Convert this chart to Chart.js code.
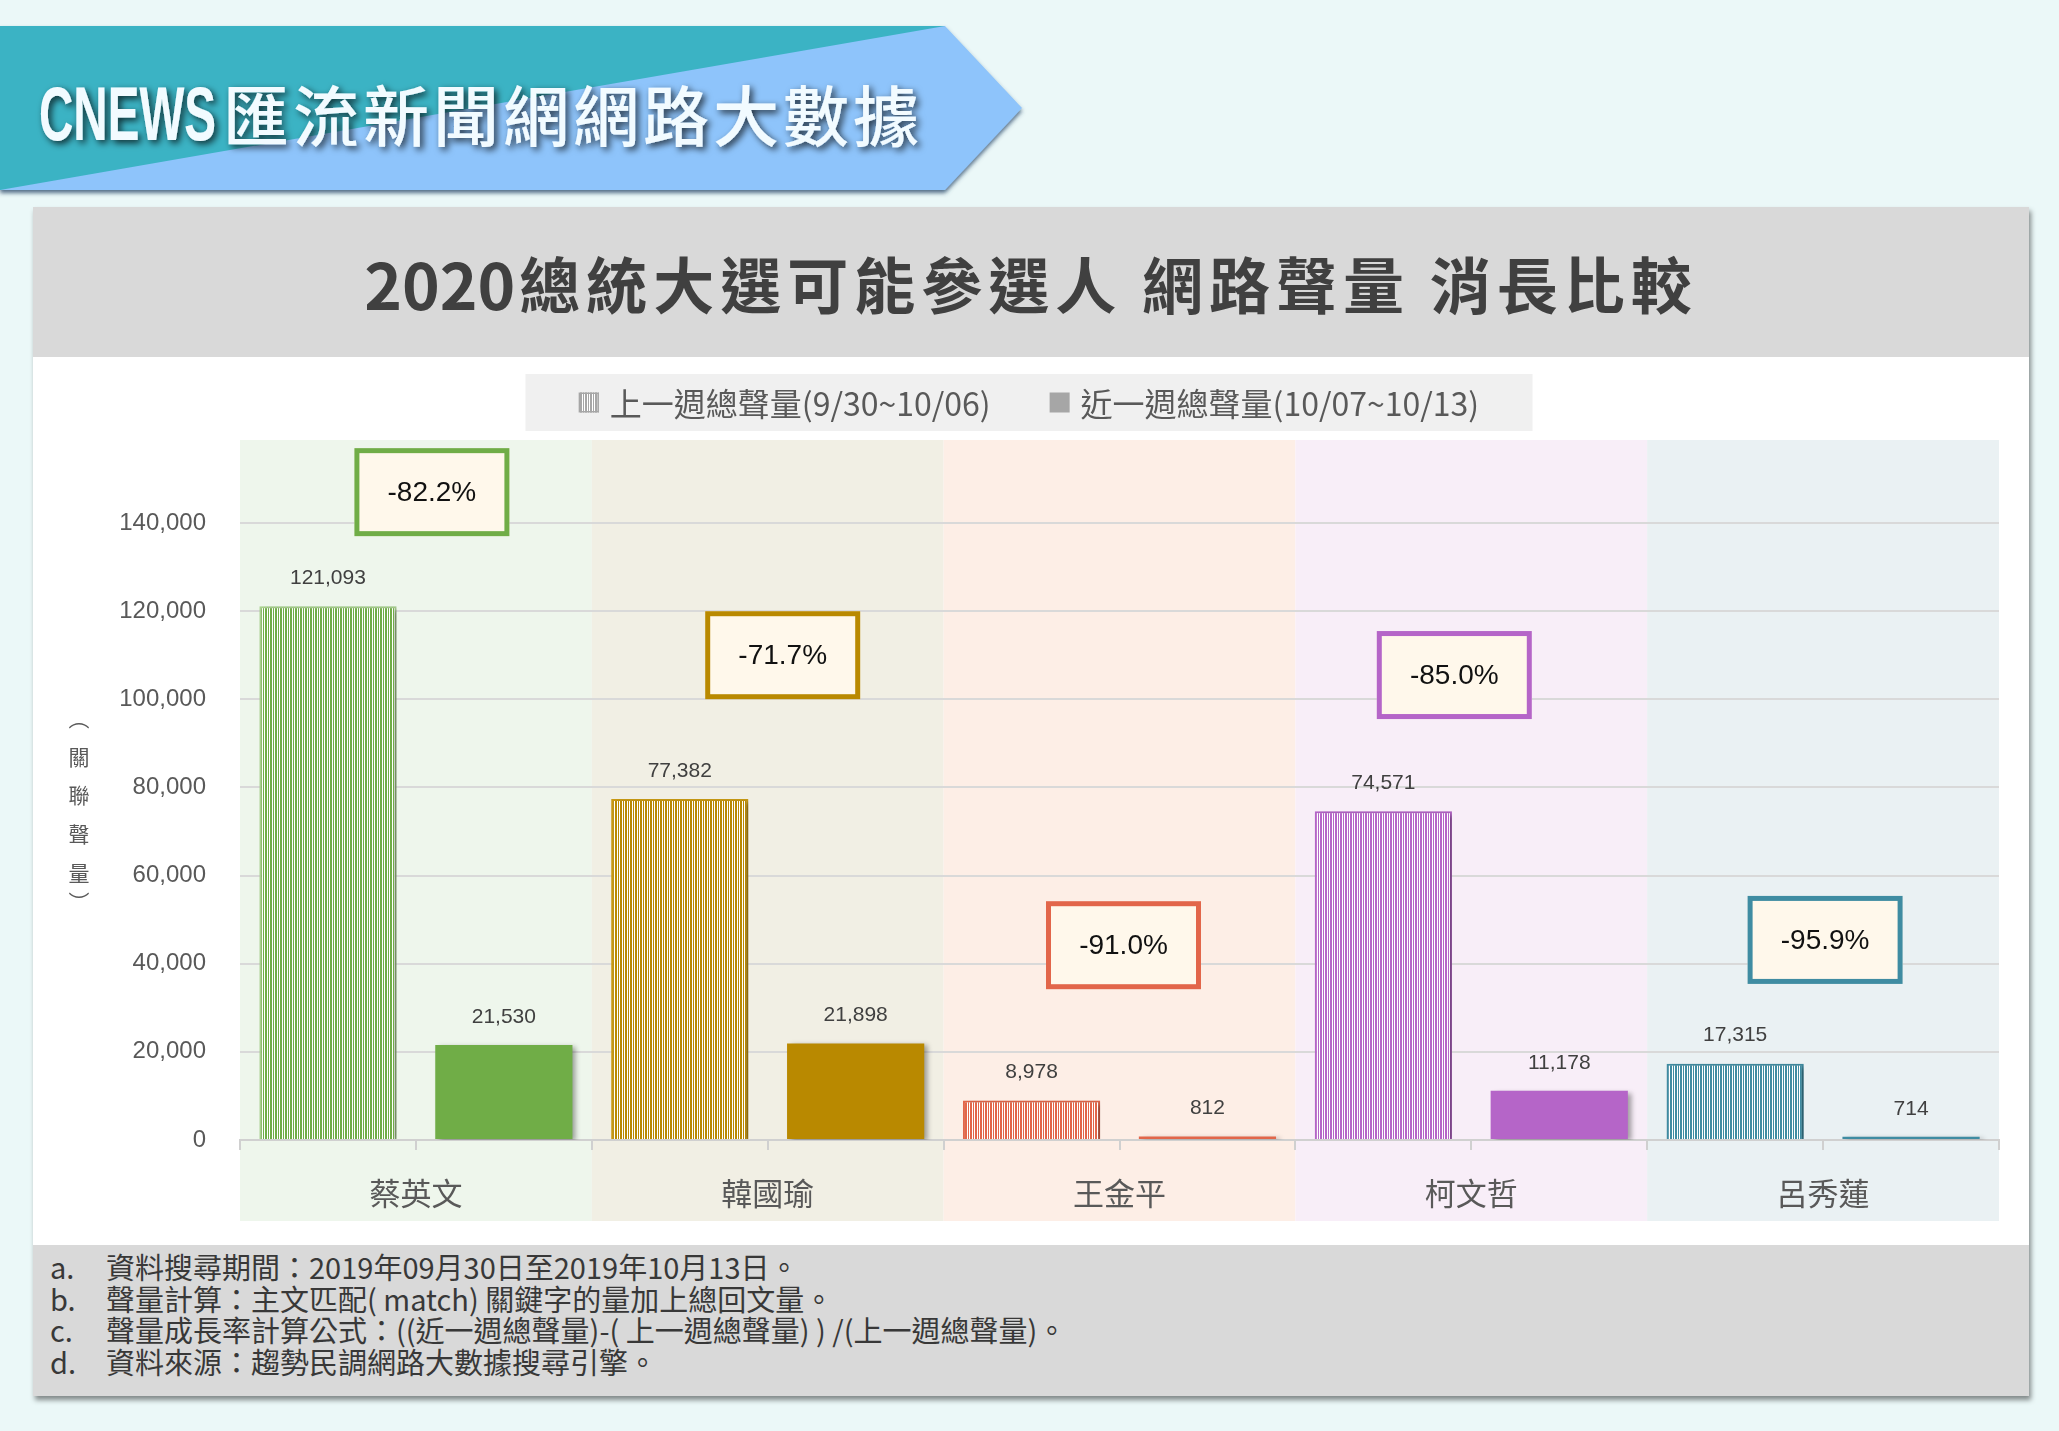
<!DOCTYPE html>
<html lang="zh-Hant">
<head>
<meta charset="utf-8">
<title>2020總統大選可能參選人 網路聲量 消長比較</title>
<script src="https://cdn.jsdelivr.net/npm/chart.js@4.4.1/dist/chart.umd.min.js"></script>
<style>
  body { margin: 0; width: 2059px; height: 1431px; background: #ebf8f8; position: relative; overflow: hidden; font-family: "Noto Sans CJK TC", sans-serif; }
  #banner { position: absolute; left: 0; top: 0; }
  #card { position: absolute; left: 33px; top: 207px; width: 1996px; height: 1189px; background: #fff; box-shadow: 2px 4px 5px rgba(0,0,0,0.45); }
  #card-title { height: 150px; background: #d9d9d9; display: flex; align-items: center; justify-content: center; font-weight: 700; font-size: 61px; letter-spacing: 6px; color: #404040; }
  #card-title .num { letter-spacing: 0; font-size: 64px; margin-right: 4px; }
  #chart-wrap { height: 888px; }
  #notes { height: 151px; background: #d9d9d9; padding: 6px 0 0 17px; box-sizing: border-box; font-size: 29px; line-height: 31.5px; color: #383838; }
  .note span { display: inline-block; width: 56px; }
</style>
</head>
<body>
<svg id="banner" width="1040" height="205" viewBox="0 0 1040 205">
  <defs>
    <filter id="edge" x="-5%" y="-20%" width="110%" height="150%">
      <feDropShadow dx="0" dy="3" stdDeviation="2" flood-color="#2b4a6a" flood-opacity="0.8"/>
    </filter>
    <filter id="glow" x="-10%" y="-30%" width="120%" height="160%">
      <feDropShadow dx="3" dy="3" stdDeviation="3.5" flood-color="#000" flood-opacity="0.75"/>
    </filter>
  </defs>
  <g filter="url(#edge)">
    <polygon points="0,26 945,26 1022,108 945,190 0,190" fill="#8ec4fb"/>
    <polygon points="0,26 945,26 0,190" fill="#3bb3c4"/>
  </g>
  <g filter="url(#glow)" fill="#f2fbff">
    <text x="39" y="140" font-family="Liberation Sans Narrow, Liberation Sans" font-weight="700" font-size="76" textLength="177" lengthAdjust="spacingAndGlyphs">CNEWS</text>
    <text x="223" y="141" font-family="Noto Sans CJK TC" font-weight="500" font-size="66" textLength="696" lengthAdjust="spacing">匯流新聞網網路大數據</text>
  </g>
</svg>

<div id="card">
  <div id="card-title"><span class="num">2020</span>總統大選可能參選人 網路聲量 消長比較</div>
  <div id="chart-wrap"><canvas id="chart" width="1996" height="888"></canvas></div>
  <div id="notes">
    <div class="note"><span>a.</span>資料搜尋期間：2019年09月30日至2019年10月13日。</div>
    <div class="note"><span>b.</span>聲量計算：主文匹配( match) 關鍵字的量加上總回文量。</div>
    <div class="note"><span>c.</span>聲量成長率計算公式：((近一週總聲量)-( 上一週總聲量) ) /(上一週總聲量)。</div>
    <div class="note"><span>d.</span>資料來源：趨勢民調網路大數據搜尋引擎。</div>
  </div>
</div>

<script>
// --- Data ---
const candidates = ['蔡英文', '韓國瑜', '王金平', '柯文哲', '呂秀蓮'];
const prevWeek = [121093, 77382, 8978, 74571, 17315];
const lastWeek = [21530, 21898, 812, 11178, 714];
const seriesLabels = ['上一週總聲量(9/30~10/06)', '近一週總聲量(10/07~10/13)'];
const yMax = 140000;
const yStep = 20000;
const yTitle = ['︵', '關', '聯', '聲', '量', '︶'];

// --- Styles ---
const mainColors = ['#70ad47', '#b98900', '#e2664a', '#b565c8', '#3f8ca2'];
const edgeColors = ['#a9d18e', '#c99a14', '#e2664a', '#b565c8', '#3f8ca2'];
const bandColors = ['#eef6ec', '#f1efe4', '#fdeee6', '#f8eef8', '#eaf1f3'];
const legendGray = '#a6a6a6';
// where each growth box sits (y in axis units, x shift in px)
const boxLevels = [147000, 110000, 44200, 105500, 45400];
const boxShift = [16, 15, 4, -17, 2];
const yTitleNudge = [0, 0, 0, 0, 0, -9];

const stripes = (color) => {
    const c = document.createElement('canvas');
    c.width = 5; c.height = 4;
    const g = c.getContext('2d');
    g.fillStyle = '#fff';
    g.fillRect(0, 0, 5, 4);
    g.fillStyle = color;
    g.fillRect(0, 0, 1, 4);
    g.fillRect(2, 0, 2, 4);
    return g.createPattern(c, 'repeat');
};

const growth = candidates.map((_, i) => ((lastWeek[i] - prevWeek[i]) / prevWeek[i] * 100).toFixed(1) + '%');

// --- Plugins ---
const bands = {
    id: 'bands',
    beforeDraw(chart) {
        const { ctx, chartArea, scales: { x } } = chart;
        const half = (x.getPixelForValue(1) - x.getPixelForValue(0)) / 2;
        ctx.save();
        candidates.forEach((_, i) => {
            const cx = x.getPixelForValue(i);
            ctx.fillStyle = bandColors[i];
            ctx.fillRect(cx - half, chartArea.top - 83, half * 2, chartArea.bottom - chartArea.top + 164);
        });
        ctx.restore();
    }
};

const legendBox = {
    id: 'legendBox',
    afterDraw(chart) {
        const ctx = chart.ctx;
        const boxW = 1007, boxH = 57, top = 17;
        const left = chart.width / 2 - boxW / 2 - 2;
        ctx.save();
        ctx.fillStyle = '#f0f0f0';
        ctx.fillRect(left, top, boxW, boxH);
        ctx.font = '32px "Noto Sans CJK TC"';
        const widths = seriesLabels.map(t => ctx.measureText(t).width);
        const total = widths.reduce((a, w) => a + 20 + 11 + w, 0) + 59;
        let x = left + boxW / 2 - total / 2;
        const cy = top + boxH / 2;
        seriesLabels.forEach((t, i) => {
            if (i === 0) {
                ctx.fillStyle = stripes(legendGray);
                ctx.fillRect(x, cy - 10, 20, 20);
                ctx.strokeStyle = legendGray;
                ctx.lineWidth = 1.5;
                ctx.strokeRect(x + 0.75, cy - 9.25, 18.5, 18.5);
            } else {
                ctx.fillStyle = legendGray;
                ctx.fillRect(x, cy - 10, 20, 20);
            }
            ctx.fillStyle = '#595959';
            ctx.textBaseline = 'middle';
            ctx.fillText(t, x + 31, cy + 1);
            x += 31 + widths[i] + 59;
        });
        ctx.restore();
    }
};

const barShadow = {
    id: 'barShadow',
    beforeDatasetDraw(chart) {
        const ctx = chart.ctx;
        ctx.save();
        ctx.shadowColor = 'rgba(0,0,0,0.35)';
        ctx.shadowBlur = 5;
        ctx.shadowOffsetX = 4;
        ctx.shadowOffsetY = 2;
    },
    afterDatasetDraw(chart) {
        chart.ctx.restore();
    }
};

const annotations = {
    id: 'annotations',
    afterDatasetsDraw(chart) {
        const { ctx, scales: { x, y } } = chart;
        ctx.save();
        ctx.textAlign = 'center';
        ctx.textBaseline = 'middle';

        // value labels
        ctx.font = '21px "Liberation Sans"';
        ctx.fillStyle = '#404040';
        chart.data.datasets.forEach((ds, di) => {
            chart.getDatasetMeta(di).data.forEach((bar, i) => {
                ctx.fillText(ds.data[i].toLocaleString('en-US'), bar.x, bar.y - 28);
            });
        });

        // mid-category ticks under the axis
        ctx.strokeStyle = '#d0d0d0';
        ctx.lineWidth = 2;
        candidates.forEach((_, i) => {
            const px = Math.round(x.getPixelForValue(i));
            ctx.beginPath();
            ctx.moveTo(px, y.bottom);
            ctx.lineTo(px, y.bottom + 10);
            ctx.stroke();
        });

        // growth boxes
        const w = 155, h = 88;
        candidates.forEach((_, i) => {
            const cx = x.getPixelForValue(i) + boxShift[i];
            const cy = y.getPixelForValue(boxLevels[i]);
            ctx.fillStyle = '#fff8eb';
            ctx.fillRect(cx - w / 2, cy - h / 2, w, h);
            ctx.strokeStyle = mainColors[i];
            ctx.lineWidth = 5;
            ctx.strokeRect(cx - w / 2 + 2.5, cy - h / 2 + 2.5, w - 5, h - 5);
            ctx.fillStyle = '#111';
            ctx.font = '28px "Liberation Sans"';
            ctx.fillText(growth[i], cx, cy + 1);
        });
        ctx.restore();
    }
};

const verticalTitle = {
    id: 'verticalTitle',
    afterDraw(chart) {
        const ctx = chart.ctx;
        ctx.save();
        ctx.font = '21px "Noto Sans CJK TC"';
        ctx.fillStyle = '#595959';
        ctx.textAlign = 'center';
        ctx.textBaseline = 'middle';
        yTitle.forEach((ch, i) => {
            ctx.fillText(ch, 46, chart.chartArea.top + 195 + i * 38.7 + yTitleNudge[i]);
        });
        ctx.restore();
    }
};

// --- Chart ---
const ctx = document.getElementById('chart').getContext('2d');
new Chart(ctx, {
    type: 'bar',
    data: {
        labels: candidates,
        datasets: [
            {
                label: seriesLabels[0],
                data: prevWeek,
                backgroundColor: mainColors.map(stripes),
                borderColor: edgeColors,
                borderWidth: 2
            },
            {
                label: seriesLabels[1],
                data: lastWeek,
                backgroundColor: mainColors,
                borderWidth: 0
            }
        ]
    },
    options: {
        responsive: false,
        animation: false,
        devicePixelRatio: 1,
        datasets: { bar: { barPercentage: 0.78, categoryPercentage: 1 } },
        layout: { padding: { top: 166, right: 30, bottom: 0, left: 0 } },
        plugins: { legend: { display: false }, tooltip: { enabled: false } },
        scales: {
            x: {
                offset: true,
                grid: { offset: true, drawOnChartArea: false, tickLength: 10, color: '#d0d0d0', lineWidth: 2 },
                border: { color: '#d0d0d0', width: 2 },
                ticks: { padding: 25, color: '#595959', font: { family: 'Noto Sans CJK TC', size: 31 } },
                afterFit: (s) => { s.height = 105; }
            },
            y: {
                min: 0,
                max: yMax,
                ticks: {
                    stepSize: yStep,
                    padding: 34,
                    color: '#595959',
                    font: { family: 'Liberation Sans', size: 24 },
                    callback: (v) => v.toLocaleString('en-US')
                },
                grid: { color: '#d9d9d9', lineWidth: 2, drawTicks: false },
                border: { display: false },
                afterFit: (s) => { s.width = 207; }
            }
        }
    },
    plugins: [bands, barShadow, annotations, legendBox, verticalTitle]
});
</script>
</body>
</html>
